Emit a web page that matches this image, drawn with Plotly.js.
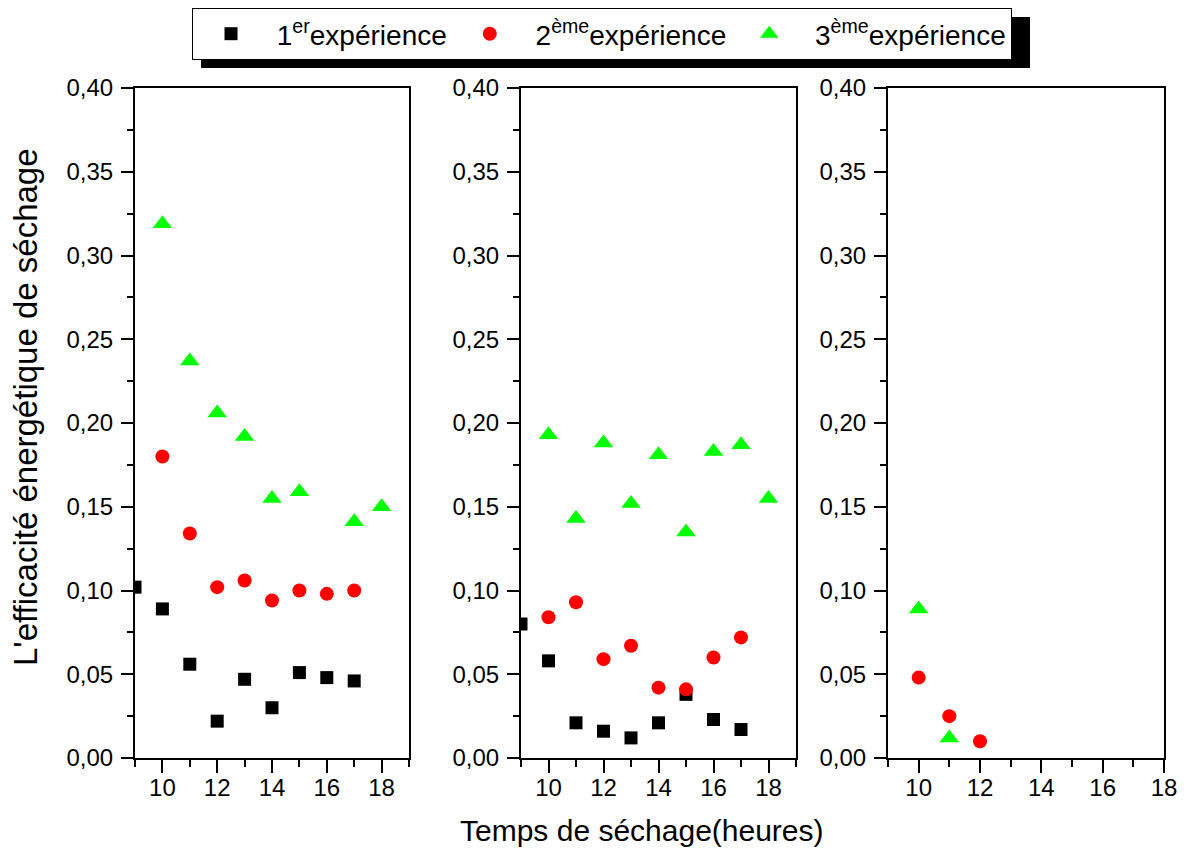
<!DOCTYPE html>
<html>
<head>
<meta charset="utf-8">
<script src="https://cdn.plot.ly/plotly-3.0.1.min.js"></script>
<style>html,body{margin:0;padding:0;background:#fff;}#chart{width:1193px;height:850px;}</style>
</head>
<body>
<div id="chart"></div>
<script>
// ---- data ----
const seriesNames = ['\u00a01<sup>er</sup>expérience', '\u00a02<sup>ème</sup>expérience', '\u00a03<sup>ème</sup>expérience'];
const seriesColors = ['#000000', '#ff0000', '#00ff00'];
const seriesSymbols = ['square', 'circle', 'triangle-up'];

// panel 1
const p1_exp1_x = [9, 10, 11, 12, 13, 14, 15, 16, 17];
const p1_exp1_y = [0.102, 0.089, 0.056, 0.022, 0.047, 0.030, 0.051, 0.048, 0.046];
const p1_exp2_x = [10, 11, 12, 13, 14, 15, 16, 17];
const p1_exp2_y = [0.180, 0.134, 0.102, 0.106, 0.094, 0.100, 0.098, 0.100];
const p1_exp3_x = [10, 11, 12, 13, 14, 15, 17, 18];
const p1_exp3_y = [0.319, 0.237, 0.206, 0.192, 0.155, 0.159, 0.141, 0.150];
// panel 2
const p2_exp1_x = [9, 10, 11, 12, 13, 14, 15, 16, 17];
const p2_exp1_y = [0.080, 0.058, 0.021, 0.016, 0.012, 0.021, 0.038, 0.023, 0.017];
const p2_exp2_x = [10, 11, 12, 13, 14, 15, 16, 17];
const p2_exp2_y = [0.084, 0.093, 0.059, 0.067, 0.042, 0.041, 0.060, 0.072];
const p2_exp3_x = [10, 11, 12, 13, 14, 15, 16, 17, 18];
const p2_exp3_y = [0.193, 0.143, 0.188, 0.152, 0.181, 0.135, 0.183, 0.187, 0.155];
// panel 3
const p3_exp1_x = [];
const p3_exp1_y = [];
const p3_exp2_x = [10, 11, 12];
const p3_exp2_y = [0.048, 0.025, 0.010];
const p3_exp3_x = [10, 11];
const p3_exp3_y = [0.089, 0.012];

const xTitle = 'Temps de séchage(heures)';
const yTitle = "L'efficacité énergétique de séchage";

const panels = [
  {xs: [p1_exp1_x, p1_exp2_x, p1_exp3_x], ys: [p1_exp1_y, p1_exp2_y, p1_exp3_y], xrange: [9, 19]},
  {xs: [p2_exp1_x, p2_exp2_x, p2_exp3_x], ys: [p2_exp1_y, p2_exp2_y, p2_exp3_y], xrange: [9, 19]},
  {xs: [p3_exp1_x, p3_exp2_x, p3_exp3_x], ys: [p3_exp1_y, p3_exp2_y, p3_exp3_y], xrange: [9, 18]}
];

// ---- layout geometry ----
const W = 1193, H = 850;
const mL = 135, mR = 29, mT = 88, mB = 92;
const plotW = W - mL - mR, plotH = H - mT - mB;
const px2x = p => (p - mL) / plotW;
const px2y = p => 1 - (p - mT) / plotH;
const domains = [[px2x(135), px2x(409)], [px2x(521), px2x(796)], [px2x(888), px2x(1164)]];
const markerSizes = [13, 14, 17];

const FONT = 'Liberation Sans, Arial, Helvetica, sans-serif';

const traces = [];
panels.forEach((pn, pi) => {
  for (let s = 0; s < 3; s++) {
    traces.push({
      type: 'scatter', mode: 'markers',
      x: pn.xs[s], y: pn.ys[s],
      xaxis: pi === 0 ? 'x' : 'x' + (pi + 1),
      yaxis: pi === 0 ? 'y' : 'y' + (pi + 1),
      name: seriesNames[s],
      legendgroup: 'g' + s,
      showlegend: pi === 0,
      marker: {symbol: seriesSymbols[s], color: seriesColors[s], size: markerSizes[s], line: {width: 0}},
      hoverinfo: 'x+y'
    });
  }
});

const layout = {
  width: W, height: H,
  margin: {l: mL, r: mR, t: mT, b: mB, pad: 0},
  paper_bgcolor: '#ffffff', plot_bgcolor: '#ffffff',
  font: {family: FONT, color: '#000000', size: 24},
  separators: ', ',
  showlegend: true,
  legend: {
    orientation: 'h', xref: 'container', yref: 'container',
    x: 192 / W, xanchor: 'left', y: 1 - 8 / H, yanchor: 'top',
    bgcolor: '#ffffff', bordercolor: '#000000', borderwidth: 1,
    font: {family: FONT, size: 28, color: '#000000'},
    itemwidth: 66, traceorder: 'normal'
  },
  shapes: [{
    type: 'rect', xref: 'paper', yref: 'paper', layer: 'above',
    x0: px2x(201), x1: px2x(1030), y0: px2y(68), y1: px2y(17),
    fillcolor: '#000000', line: {width: 0}
  }],
  annotations: [
    {text: xTitle, xref: 'paper', yref: 'paper', x: px2x(642), y: px2y(830),
     xanchor: 'center', yanchor: 'middle', showarrow: false, font: {family: FONT, size: 30}},
    {text: yTitle, xref: 'paper', yref: 'paper', x: px2x(25), y: px2y(407),
     xanchor: 'center', yanchor: 'middle', textangle: -90, showarrow: false, font: {family: FONT, size: 33}}
  ]
};

domains.forEach((d, i) => {
  const xk = i === 0 ? 'xaxis' : 'xaxis' + (i + 1);
  const yk = i === 0 ? 'yaxis' : 'yaxis' + (i + 1);
  const xid = i === 0 ? 'x' : 'x' + (i + 1);
  const yid = i === 0 ? 'y' : 'y' + (i + 1);
  layout[xk] = {
    domain: d, anchor: yid, range: panels[i].xrange, fixedrange: true,
    showgrid: false, zeroline: false, showline: true, mirror: true,
    linecolor: '#000000', linewidth: 2,
    ticks: 'outside', tick0: 0, dtick: 2, ticklen: 13, tickwidth: 2, tickcolor: '#000000',
    minor: {dtick: 1, tick0: 0, ticks: 'outside', ticklen: 7, tickwidth: 2, tickcolor: '#000000', showgrid: false},
    tickfont: {family: FONT, size: 24}, ticklabelstandoff: -6
  };
  layout[yk] = {
    domain: [0, 1], anchor: xid, range: [0, 0.4], fixedrange: true,
    showgrid: false, zeroline: false, showline: true, mirror: true,
    linecolor: '#000000', linewidth: 2,
    ticks: 'outside', tick0: 0, dtick: 0.05, ticklen: 12, tickwidth: 2, tickcolor: '#000000',
    minor: {dtick: 0.025, tick0: 0, ticks: 'outside', ticklen: 6, tickwidth: 2, tickcolor: '#000000', showgrid: false},
    tickformat: '.2f',
    tickfont: {family: FONT, size: 24}, ticklabelstandoff: 3
  };
});

Plotly.newPlot('chart', traces, layout, {staticPlot: true, displayModeBar: false});
</script>
</body>
</html>
